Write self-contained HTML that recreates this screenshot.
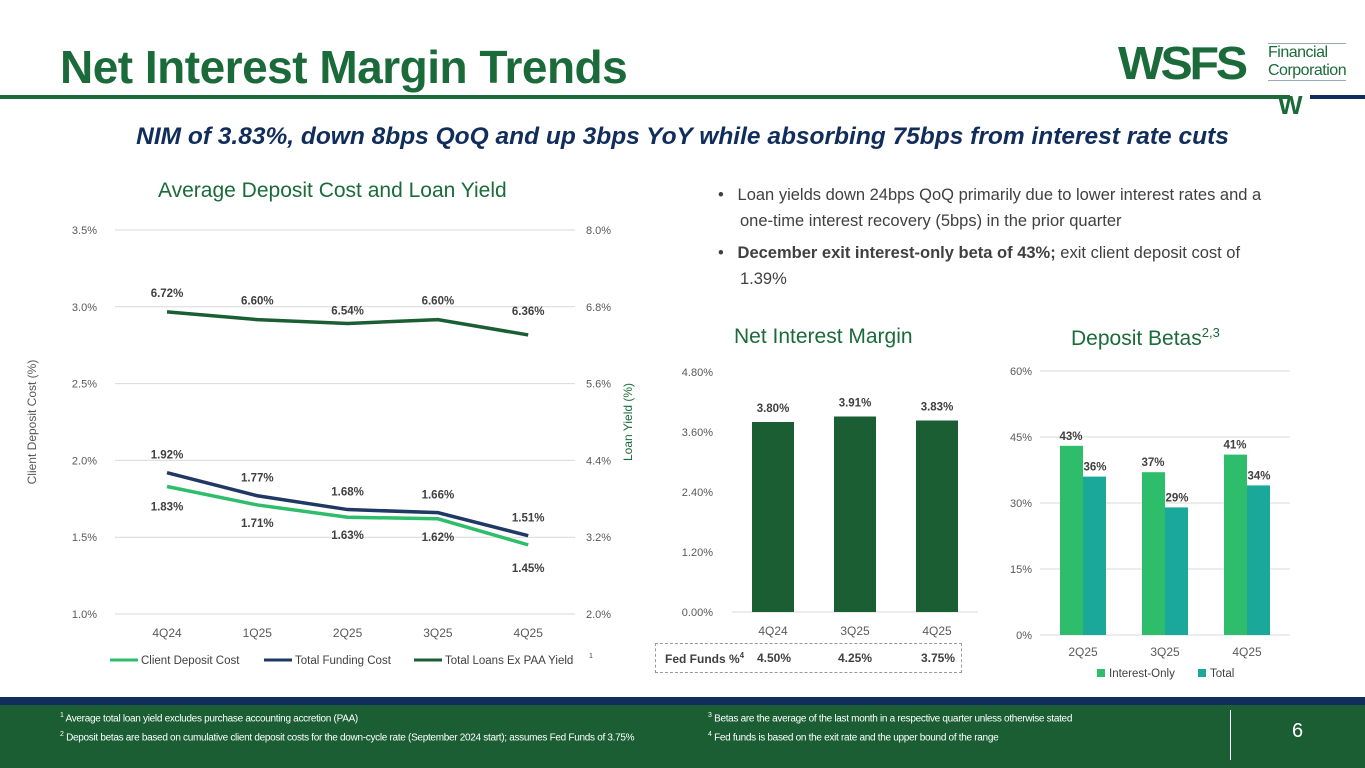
<!DOCTYPE html>
<html><head><meta charset="utf-8"><style>
body{margin:0;width:1365px;height:768px;position:relative;overflow:hidden;background:#fff;font-family:"Liberation Sans",sans-serif}
.a{position:absolute}
svg text{font-family:"Liberation Sans",sans-serif}
</style></head><body>
<div class="a" style="left:60px;top:40px;font-size:46px;font-weight:bold;color:#1b6b3a;letter-spacing:-0.5px">Net Interest Margin Trends</div>
<div class="a" style="left:0;top:95px;width:1290px;height:4px;background:#1b6b3a"></div>
<div class="a" style="left:1310px;top:95px;width:55px;height:4px;background:#102d5c"></div>
<div class="a" style="left:1118px;top:40px;width:240px;height:80px">
 <div class="a" style="left:0;top:-4px;font-size:46px;font-weight:900;color:#1b6b3a;letter-spacing:-3px;transform:scaleX(1.05);transform-origin:left">WSFS</div>
 <div class="a" style="left:150px;top:3px;font-size:16px;color:#1b6b3a;line-height:18px;border-top:1px solid #9ab;border-bottom:1px solid #9ab;letter-spacing:-0.5px">Financial<br>Corporation</div>
 <div class="a" style="left:160px;top:50px;font-size:26px;font-weight:900;color:#1b6b3a">W</div>
</div>
<div class="a" style="left:0;width:1365px;top:123px;text-align:center;font-size:24.5px;font-style:italic;font-weight:bold;color:#102d5c;letter-spacing:0px">NIM of 3.83%, down 8bps QoQ and up 3bps YoY while absorbing 75bps from interest rate cuts</div>
<div class="a" style="left:158px;top:179px;font-size:21px;color:#1b6b3a">Average Deposit Cost and Loan Yield</div>
<div class="a" style="left:718px;top:182px;width:560px;font-size:16.5px;color:#404040;line-height:26px">
<div style="padding-left:22px;text-indent:-22px">•&nbsp;&nbsp; Loan yields down 24bps QoQ primarily due to lower interest rates and a one-time interest recovery (5bps) in the prior quarter</div>
<div style="padding-left:22px;text-indent:-22px;margin-top:6px">•&nbsp;&nbsp; <b>December exit interest-only beta of 43%;</b> exit client deposit cost of 1.39%</div>
</div>
<div class="a" style="left:734px;top:325px;font-size:21px;color:#1b6b3a">Net Interest Margin</div>
<div class="a" style="left:1071px;top:325px;font-size:21px;color:#1b6b3a">Deposit Betas<sup style="font-size:13px">2,3</sup></div>
<svg class="a" style="left:0;top:0" width="1365" height="700" id="svg"></svg>
<div class="a" style="left:655px;top:643px;width:305px;height:28px;border:1px dashed #999;font-size:12px;color:#404040;font-weight:bold">
<span class="a" style="left:9px;top:7px">Fed Funds %<sup style="font-size:8px">4</sup></span>
<span class="a" style="left:101px;top:7px">4.50%</span><span class="a" style="left:182px;top:7px">4.25%</span><span class="a" style="left:265px;top:7px">3.75%</span></div>
<div class="a" style="left:0;top:697px;width:1365px;height:8px;background:#102d5c"></div>
<div class="a" style="left:0;top:705px;width:1365px;height:63px;background:#1b5e34;color:#fff;font-size:10px;line-height:16px">
<div class="a" style="left:60px;top:3px;width:590px;letter-spacing:-0.3px"><sup style="font-size:7px">1</sup> Average total loan yield excludes purchase accounting accretion (PAA)<br><sup style="font-size:7px">2</sup> Deposit betas are based on cumulative client deposit costs for the down-cycle rate (September 2024 start); assumes Fed Funds of 3.75%</div>
<div class="a" style="left:708px;top:3px;width:500px;letter-spacing:-0.3px"><sup style="font-size:7px">3</sup> Betas are the average of the last month in a respective quarter unless otherwise stated<br><sup style="font-size:7px">4</sup> Fed funds is based on the exit rate and the upper bound of the range</div>
<div class="a" style="left:1230px;top:5px;width:1px;height:50px;background:#fff"></div>
<div class="a" style="left:1292px;top:18px;font-size:20px">6</div>
</div>
<script>
const lineCats=['4Q24','1Q25','2Q25','3Q25','4Q25'];
const clientDeposit=[1.83,1.71,1.63,1.62,1.45];
const totalFunding=[1.92,1.77,1.68,1.66,1.51];
const loanYield=[6.72,6.60,6.54,6.60,6.36];
const leftTicks=[1.0,1.5,2.0,2.5,3.0,3.5];
const rightTicks=[2.0,3.2,4.4,5.6,6.8,8.0];
const nimCats=['4Q24','3Q25','4Q25'];
const nimVals=[3.80,3.91,3.83];
const nimTicks=[0,1.2,2.4,3.6,4.8];
const betaCats=['2Q25','3Q25','4Q25'];
const betaIO=[43,37,41];
const betaTotal=[36,29,34];
const betaTicks=[0,15,30,45,60];

const S=document.getElementById('svg'),NS='http://www.w3.org/2000/svg';
function el(t,a,txt){const e=document.createElementNS(NS,t);for(const k in a)e.setAttribute(k,a[k]);if(txt!=null)e.textContent=txt;S.appendChild(e);return e;}
const yL=v=>614-(v-1)/2.5*384, yR=v=>614-(v-2)/6*384, xL=i=>167+i*90.3;
leftTicks.forEach((t,i)=>{const y=yL(t);let g=el('line',{x1:115,x2:575,y1:y,y2:y,stroke:'#d9d9d9'});

let a=el('text',{x:97,y:y+4,'text-anchor':'end','font-size':11,fill:'#595959'},t.toFixed(1)+'%');});
rightTicks.forEach(t=>{let a=el('text',{x:586,y:yR(t)+4,'font-size':11,fill:'#595959'},t.toFixed(1)+'%');});
lineCats.forEach((c,i)=>{let a=el('text',{x:xL(i),y:637,'text-anchor':'middle','font-size':12,fill:'#595959'},c);});
let yt=el('text',{transform:'translate(36,422) rotate(-90)','text-anchor':'middle','font-size':12,fill:'#595959'},'Client Deposit Cost (%)');
let yt2=el('text',{transform:'translate(632,422) rotate(-90)','text-anchor':'middle','font-size':12,fill:'#1b6b3a'},'Loan Yield (%)');
function series(vals,yf,color,name,dy){const p=vals.map((v,i)=>xL(i)+','+yf(v)).join(' ');
let l=el('polyline',{points:p,fill:'none',stroke:color,'stroke-width':3.5});
vals.forEach((v,i)=>{let t=el('text',{x:xL(i),y:yf(v)+dy[i],'text-anchor':'middle','font-size':11.5,'font-weight':'bold',fill:'#404040'},v.toFixed(2)+'%');});}
series(clientDeposit,yL,'#2dbd6b','client-deposit-line',[24,22,22,22,27]);
series(totalFunding,yL,'#1f3864','total-funding-line',[-14,-14,-14,-14,-14]);
series(loanYield,yR,'#1b5e34','loan-yield-line',[-15,-15,-9,-15,-20]);
[['Client Deposit Cost','#2dbd6b',110],['Total Funding Cost','#1f3864',264],['Total Loans Ex PAA Yield','#1b5e34',414]].forEach(d=>{
let l=el('line',{x1:d[2],x2:d[2]+28,y1:660,y2:660,stroke:d[1],'stroke-width':3});
let t=el('text',{x:d[2]+31,y:664,'font-size':11.5,fill:'#404040'},d[0]);});
el('text',{x:589,y:658,'font-size':7,fill:'#404040'},'1');
const yN=v=>612-v/4.8*240, xN=i=>773+i*82;
nimTicks.forEach(t=>{let a=el('text',{x:713,y:yN(t)+4,'text-anchor':'end','font-size':11,fill:'#595959'},t.toFixed(2)+'%');});
el('line',{x1:732,x2:978,y1:612,y2:612,stroke:'#d9d9d9'});
nimVals.forEach((v,i)=>{let b=el('rect',{x:xN(i)-21,y:yN(v),width:42,height:612-yN(v),fill:'#1b5e34'});
let t=el('text',{x:xN(i),y:yN(v)-10,'text-anchor':'middle','font-size':11.5,'font-weight':'bold',fill:'#404040'},v.toFixed(2)+'%');
let c=el('text',{x:xN(i),y:635,'text-anchor':'middle','font-size':12,fill:'#595959'},nimCats[i]);});
const yB=v=>635-v/60*264, xB=i=>1083+i*82;
betaTicks.forEach(t=>{const y=yB(t);let g=el('line',{x1:1040,x2:1290,y1:y,y2:y,stroke:'#d9d9d9'});
let a=el('text',{x:1032,y:y+4,'text-anchor':'end','font-size':11,fill:'#595959'},t+'%');});
betaCats.forEach((c,i)=>{
let b=el('rect',{x:xB(i)-23,y:yB(betaIO[i]),width:23,height:635-yB(betaIO[i]),fill:'#2dbd6b'});
let b2=el('rect',{x:xB(i),y:yB(betaTotal[i]),width:23,height:635-yB(betaTotal[i]),fill:'#1aa89b'});
let t=el('text',{x:xB(i)-12,y:yB(betaIO[i])-6,'text-anchor':'middle','font-size':11.5,'font-weight':'bold',fill:'#404040'},betaIO[i]+'%');
let t2=el('text',{x:xB(i)+12,y:yB(betaTotal[i])-6,'text-anchor':'middle','font-size':11.5,'font-weight':'bold',fill:'#404040'},betaTotal[i]+'%');
let cl=el('text',{x:xB(i),y:656,'text-anchor':'middle','font-size':12,fill:'#595959'},c);});
[['Interest-Only','#2dbd6b',1097],['Total','#1aa89b',1198]].forEach(d=>{
let r=el('rect',{x:d[2],y:669,width:8,height:8,fill:d[1]});
let t=el('text',{x:d[2]+12,y:677,'font-size':11.5,fill:'#404040'},d[0]);});
</script>
</body></html>
